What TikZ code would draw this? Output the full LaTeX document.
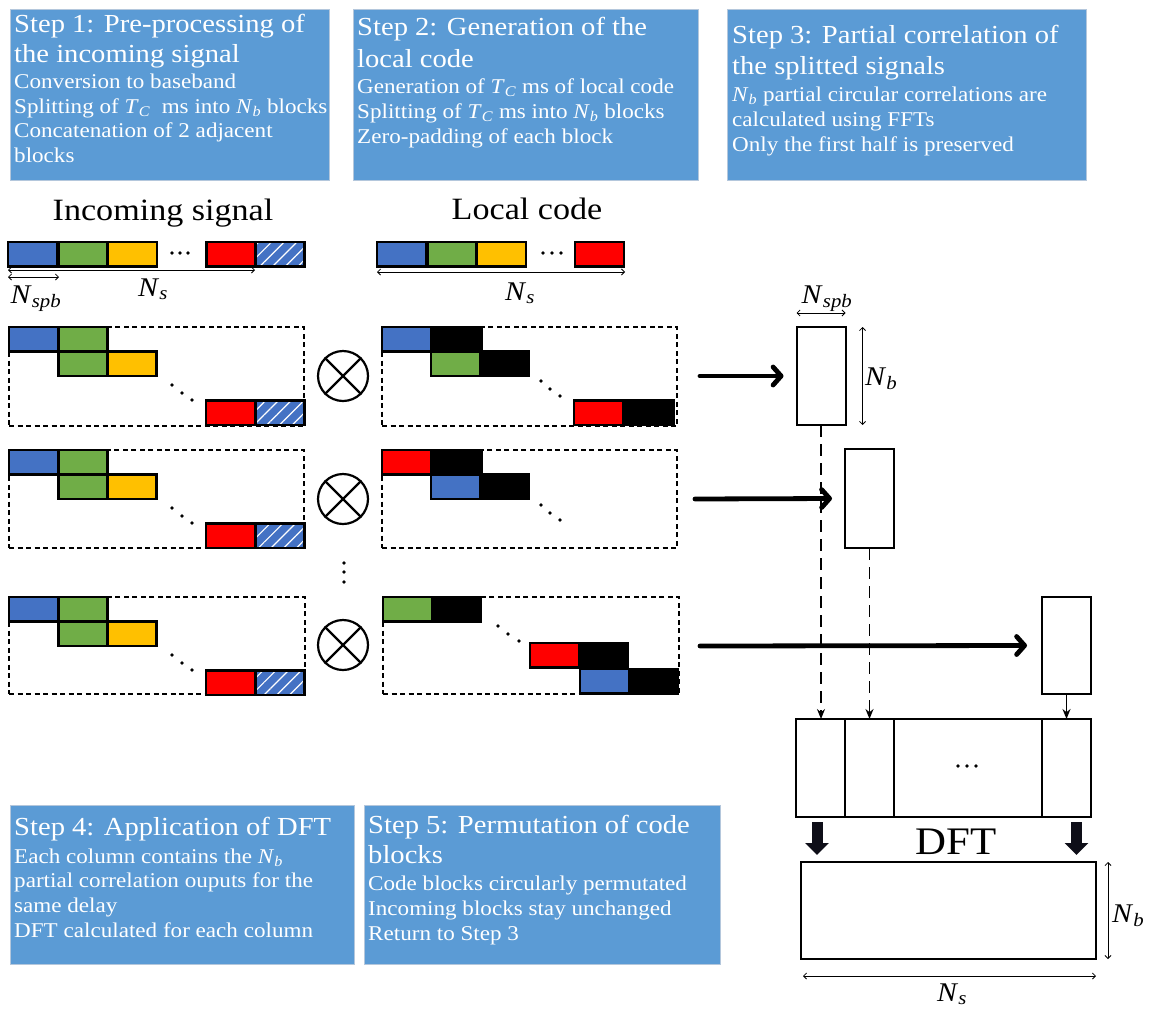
\documentclass[tikz,border=0pt]{standalone}
\usepackage{fontspec}
\setmainfont{Liberation Serif}[FakeStretch=1.1]
\usetikzlibrary{arrows.meta,patterns.meta,calc}
\definecolor{stepblue}{HTML}{5B9BD5}
\definecolor{stepedge}{HTML}{B4C7DC}
\definecolor{cblue}{HTML}{4472C4}
\definecolor{cgreen}{HTML}{70AD47}
\definecolor{cyellow}{HTML}{FFC000}
\definecolor{cred}{HTML}{FF0000}
\definecolor{arrowdark}{HTML}{0E0E18}
\newcommand\ftitle{\fontsize{26}{30}\selectfont}
\newcommand\fbody{\fontsize{21}{25}\selectfont}
\newcommand\fmath{\fontsize{27}{30}\selectfont}
\newcommand\sym[2]{\textit{#1}\textsubscript{\textit{#2}}}
\newcommand\blk[3]{\filldraw[blkst,fill=#3] (#1,#2) rectangle ++(49,24.5);}
\newcommand\hblk[2]{\filldraw[blkst,fill=cblue] (#1,#2) rectangle ++(49,24.5);
  \fill[pattern={Lines[angle=45,distance=9pt,line width=1.2pt]},pattern color=white] (#1,#2) rectangle ++(49,24.5);
  \draw[blkst] (#1,#2) rectangle ++(49,24.5);}
\newcommand\dotp[2]{\fill (#1,#2) circle (1.9pt);}
\newcommand\txt[5]{\node[anchor=base west,inner sep=0,text=white,font=#4] (#1) at (#2,#3) {#5};}
\tikzset{
  stepbox/.style={draw=stepedge,line width=1pt,fill=stepblue,inner sep=0,outer sep=0,anchor=north west},
  blkst/.style={draw=black,line width=2.3pt,line join=miter},
  dashbox/.style={draw=black,line width=1.6pt,dash pattern=on 5pt off 3.5pt,inner sep=0,outer sep=0,anchor=north west},
  colbox/.style={draw=black,line width=2pt,inner sep=0,outer sep=0,anchor=north west,minimum width=49pt},
  cellbox/.style={draw=black,line width=2.6pt,inner sep=0,outer sep=0,anchor=north west,minimum height=98pt},
  rowarrow/.style={line width=4.8pt,line cap=round,-{Straight Barb[round,length=8pt,width=18pt]}},
  dimarrow/.style={line width=0.8pt,{Straight Barb[length=3pt,width=6pt]}-{Straight Barb[length=3pt,width=6pt]}},
  dashconn/.style={line width=1.5pt,dash pattern=on 12pt off 7pt,-{Stealth[length=10pt,width=8pt]}},
  solconn/.style={line width=1.5pt,-{Stealth[length=10pt,width=8pt]}},
  blockarrow/.style={draw=arrowdark,line width=11pt,-{Triangle[length=12pt,width=23pt]},shorten <=5pt,shorten >=7pt},
  otimes/.style={circle,draw=black,line width=2.2pt,minimum size=50pt,inner sep=0},
  mlabel/.style={inner sep=0,font=\fmath,anchor=base},
}
\begin{document}
\begin{tikzpicture}[x=1pt,y=-1pt]
\useasboundingbox[fill=white] (0,0) rectangle (1151,1010);

% ---------- step boxes ----------
\node[stepbox,minimum width=319pt,minimum height=171pt] (s1) at (10,9) {};
\node[stepbox,minimum width=345pt,minimum height=171pt] (s2) at (353,9) {};
\node[stepbox,minimum width=359pt,minimum height=171pt] (s3) at (727,9) {};
\node[stepbox,minimum width=344pt,minimum height=159pt] (s4) at (10,805) {};
\node[stepbox,minimum width=356pt,minimum height=159pt] (s5) at (364,805) {};

\txt{t1a}{14}{32}{\ftitle}{Step 1: Pre-processing of}
\txt{t1b}{14}{62}{\ftitle}{the incoming signal}
\txt{t1c}{14}{88}{\fbody}{Conversion to baseband}
\txt{t1d}{14}{113}{\fbody}{Splitting of \sym{T}{C}\ \ ms into \sym{N}{b} blocks}
\txt{t1e}{14}{137}{\fbody}{Concatenation of 2 adjacent}
\txt{t1f}{14}{162}{\fbody}{blocks}

\txt{t2a}{357}{35}{\ftitle}{Step 2: Generation of the}
\txt{t2b}{357}{67}{\ftitle}{local code}
\txt{t2c}{357}{93}{\fbody}{Generation of \sym{T}{C} ms of local code}
\txt{t2d}{357}{118}{\fbody}{Splitting of \sym{T}{C} ms into \sym{N}{b} blocks}
\txt{t2e}{357}{143}{\fbody}{Zero-padding of each block}

\txt{t3a}{732}{43}{\ftitle}{Step 3: Partial correlation of}
\txt{t3b}{732}{74}{\ftitle}{the splitted signals}
\txt{t3c}{732}{101}{\fbody}{\sym{N}{b} partial circular correlations are}
\txt{t3d}{732}{126}{\fbody}{calculated using FFTs}
\txt{t3e}{732}{151}{\fbody}{Only the first half is preserved}

\txt{t4a}{14}{835}{\ftitle}{Step 4: Application of DFT}
\txt{t4b}{14}{863}{\fbody}{Each column contains the \sym{N}{b}}
\txt{t4c}{14}{887}{\fbody}{partial correlation ouputs for the}
\txt{t4d}{14}{912}{\fbody}{same delay}
\txt{t4e}{14}{937}{\fbody}{DFT calculated for each column}

\txt{t5a}{368}{833}{\ftitle}{Step 5: Permutation of code}
\txt{t5b}{368}{863}{\ftitle}{blocks}
\txt{t5c}{368}{890}{\fbody}{Code blocks circularly permutated}
\txt{t5d}{368}{915}{\fbody}{Incoming blocks stay unchanged}
\txt{t5e}{368}{940}{\fbody}{Return to Step 3}

% ---------- headings ----------
\node[inner sep=0,anchor=base,font=\fontsize{31}{34}\selectfont] (hin) at (163,220) {Incoming signal};
\node[inner sep=0,anchor=base,font=\fontsize{31}{34}\selectfont] (hlc) at (527,219) {Local code};

% ---------- top bars ----------
\blk{8}{242}{cblue}\blk{58.5}{242}{cgreen}\blk{108}{242}{cyellow}
\dotp{172}{253}\dotp{180}{253}\dotp{188}{253}
\blk{206.5}{242}{cred}\hblk{255.5}{242}

\blk{377}{242}{cblue}\blk{427.5}{242}{cgreen}\blk{477}{242}{cyellow}
\dotp{543}{253}\dotp{552}{253}\dotp{561}{253}
\blk{575}{242}{cred}

\coordinate (ibl) at (8,270); \coordinate (ibr) at (255,270);
\draw[dimarrow] (ibl) -- (ibr);
\coordinate (isl) at (8,277); \coordinate (isr) at (59,277);
\draw[dimarrow] (isl) -- (isr);
\node[mlabel] (lnspb) at (36,303) {\sym{N}{spb}};
\node[mlabel] (lns1) at (153,296) {\sym{N}{s}};
\coordinate (lbl) at (377,272); \coordinate (lbr) at (625,272);
\draw[dimarrow] (lbl) -- (lbr);
\node[mlabel] (lns2) at (520,300) {\sym{N}{s}};

% ---------- dashed frames ----------
\node[dashbox,minimum width=295pt,minimum height=99pt] (in1) at (9,327) {};
\node[dashbox,minimum width=295pt,minimum height=98pt] (in2) at (9,450) {};
\node[dashbox,minimum width=296pt,minimum height=97pt] (in3) at (9,597) {};
\node[dashbox,minimum width=295pt,minimum height=99pt] (lc1) at (382,327) {};
\node[dashbox,minimum width=295pt,minimum height=98pt] (lc2) at (382,450) {};
\node[dashbox,minimum width=296pt,minimum height=97pt] (lc3) at (383,597) {};

% ---------- incoming rows ----------
\foreach \T in {327,450,597}{
  \blk{9}{\T}{cblue}\blk{58.5}{\T}{cgreen}
  \blk{58.5}{\T+24.5}{cgreen}\blk{107.5}{\T+24.5}{cyellow}
  \dotp{172}{\T+58}\dotp{182}{\T+66}\dotp{192}{\T+73}
  \blk{206}{\T+73.5}{cred}\hblk{255.5}{\T+73.5}
}

% ---------- local code rows ----------
\blk{382}{327}{cblue}\filldraw[blkst,fill=black] (431,327) rectangle ++(51,24.5);
\blk{431}{351.5}{cgreen}\blk{480}{351.5}{black}
\dotp{541}{381}\dotp{550}{389}\dotp{560}{396}
\blk{574}{400.5}{cred}\filldraw[blkst,fill=black] (623,400.5) rectangle ++(51,24.5);

\blk{382}{450}{cred}\filldraw[blkst,fill=black] (431,450) rectangle ++(51,24.5);
\blk{431}{474.5}{cblue}\blk{480}{474.5}{black}
\dotp{541}{505}\dotp{550}{513}\dotp{560}{520}

\blk{383}{597}{cgreen}\blk{432}{597}{black}
\dotp{498}{626}\dotp{508}{634}\dotp{519}{641}
\blk{530}{643}{cred}\blk{579}{643}{black}
\blk{580}{669}{cblue}\blk{629}{669}{black}

% ---------- otimes ----------
\foreach \n/\yy in {1/376,2/499,3/645}{
  \node[otimes] (m\n) at (343,\yy) {};
  \draw[line width=2.2pt] (m\n.north west) -- (m\n.south east) (m\n.north east) -- (m\n.south west);
}
\dotp{344}{563}\dotp{344}{572}\dotp{344}{582}

% ---------- columns ----------
\node[colbox,minimum height=98pt] (col1) at (796.5,327) {};
\node[colbox,minimum height=99pt] (col2) at (845,449) {};
\node[colbox,minimum height=97pt] (col3) at (1042,597) {};

\draw[dimarrow] ([yshift=14pt]col1.north west) -- ([yshift=14pt]col1.north east);
\node[mlabel] (cnspb) at (827,303) {\sym{N}{spb}};
\draw[dimarrow] ([xshift=17pt]col1.north east) -- ([xshift=17pt]col1.south east);
\node[mlabel,anchor=base west] (cnb) at (865,385) {\sym{N}{b}};

% row arrows
\coordinate (r1) at (700,376);
\coordinate (r2) at (695,499);
\coordinate (r3) at (700,646);
\draw[rowarrow] (r1) -- ([xshift=-13pt]col1.west);
\draw[rowarrow] (r2) -- ([xshift=-13pt]col2.west);
\draw[rowarrow] (r3) -- ([xshift=-15pt]col3.west);

% ---------- matrix ----------
\node[cellbox,minimum width=49pt] (c1) at (796,719) {};
\node[cellbox,minimum width=49pt] (c2) at (845,719) {};
\node[cellbox,minimum width=148pt] (c3) at (894,719) {};
\node[cellbox,minimum width=49pt] (c4) at (1042,719) {};
\dotp{958}{766}\dotp{967}{766}\dotp{976}{766}

\draw[dashconn] (col1.south) -- (col1.south |- c1.north);
\draw[dashconn] (col2.south) -- (col2.south |- c2.north);
\draw[solconn] (col3.south) -- (col3.south |- c4.north);

% ---------- DFT ----------
\node[draw=black,line width=2.6pt,inner sep=0,outer sep=0,anchor=north west,minimum width=295pt,minimum height=97pt] (res) at (801,862) {};
\node[inner sep=0,anchor=base,font=\fontsize{39}{44}\selectfont] (dft) at (956,854) {DFT};
\draw[blockarrow] ([xshift=-3.5pt]c1.south) -- ([xshift=-3.5pt]c1.south |- res.north);
\draw[blockarrow] ([xshift=10pt]c4.south) -- ([xshift=10pt]c4.south |- res.north);

\draw[dimarrow] ([xshift=12pt]res.north east) -- ([xshift=12pt]res.south east);
\node[mlabel,anchor=base west] (rnb) at (1112,922) {\sym{N}{b}};
\draw[dimarrow] ([xshift=2pt,yshift=-17pt]res.south west) -- ([yshift=-17pt]res.south east);
\node[mlabel] (rns) at (952,1001) {\sym{N}{s}};
\end{tikzpicture}
\end{document}
